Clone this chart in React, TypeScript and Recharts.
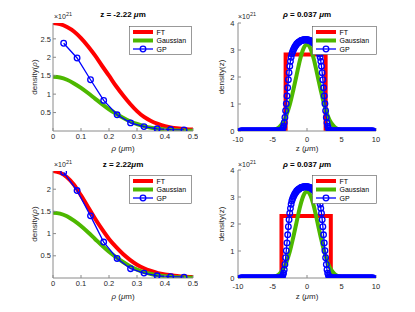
import { LineChart, Line, XAxis, YAxis } from 'recharts'

// rho grid (um) for the smooth curves in the left panels
const rhoFine = [0, 0.025, 0.05, 0.075, 0.1, 0.125, 0.15, 0.175, 0.2, 0.225, 0.25, 0.275, 0.3, 0.325, 0.35, 0.375, 0.4, 0.425, 0.45, 0.475, 0.5]
const ftRhoTop = [2.93, 2.9, 2.82, 2.7, 2.52, 2.3, 2.05, 1.77, 1.5, 1.22, 0.97, 0.74, 0.54, 0.38, 0.27, 0.19, 0.13, 0.09, 0.07, 0.05, 0.04]
const ftRhoBottom = [2.41, 2.37, 2.27, 2.1, 1.86, 1.6, 1.34, 1.1, 0.88, 0.7, 0.54, 0.41, 0.3, 0.22, 0.16, 0.11, 0.08, 0.06, 0.04, 0.03, 0.02]
const gaussRho = [1.47, 1.45, 1.39, 1.29, 1.17, 1.03, 0.88, 0.73, 0.59, 0.47, 0.36, 0.265, 0.19, 0.134, 0.09, 0.06, 0.04, 0.025, 0.015, 0.01, 0.005]

// GP samples in rho
const rhoGP = [0.038, 0.086, 0.134, 0.181, 0.229, 0.277, 0.325, 0.372, 0.42, 0.468]
const gpRhoTop = [2.38, 1.98, 1.39, 0.83, 0.44, 0.22, 0.12, 0.06, 0.04, 0.03]
const gpRhoBottom = [2.38, 1.97, 1.4, 0.81, 0.44, 0.21, 0.11, 0.05, 0.03, 0.02]

// z profiles (right panels)
const zGauss = [-10, -9.5, -9, -8.5, -8, -7.5, -7, -6.5, -6, -5.5, -5, -4.5, -4, -3.5, -3, -2.5, -2, -1.5, -1, -0.5, 0, 0.5, 1, 1.5, 2, 2.5, 3, 3.5, 4, 4.5, 5, 5.5, 6, 6.5, 7, 7.5, 8, 8.5, 9, 9.5, 10]
const gaussZ = [0, 0, 0, 0, 0, 0, 0, 0.001, 0.003, 0.01, 0.027, 0.07, 0.15, 0.3, 0.57, 0.97, 1.5, 2.08, 2.65, 3.06, 3.2, 3.06, 2.65, 2.08, 1.5, 0.97, 0.57, 0.3, 0.15, 0.07, 0.027, 0.01, 0.003, 0.001, 0, 0, 0, 0, 0, 0, 0]

const ftZTop = [-9.6, -3.1, -3.1, 2.7, 2.7, 9.6]
const ftZTopVal = [0, 0, 2.83, 2.83, 0, 0]
const ftZBottom = [-9.6, -3.7, -3.7, 3.45, 3.45, 9.6]
const ftZBottomVal = [0, 0, 2.3, 2.3, 0, 0]

// GP on z grid -9.6 .. 9.6, step 0.1
const gpZStart = -9.6
const gpZStep = 0.1
const gpZ = [
  0, 0, 0, 0, 0, 0, 0, 0, 0, 0, 0, 0, 0, 0, 0, 0, 0, 0, 0, 0,
  0, 0, 0, 0, 0, 0, 0, 0, 0, 0, 0, 0, 0, 0, 0, 0, 0, 0, 0, 0,
  0, 0, 0, 0, 0, 0, 0, 0, 0, 0, 0, 0, 0, 0, 0, 0, 0, 0,
  0.01, 0.03, 0.05, 0.1, 0.18, 0.31, 0.5, 0.75, 1.01, 1.3, 1.6, 1.9, 2.16, 2.4, 2.58, 2.73, 2.85, 2.93,
  2.99, 3.05, 3.1, 3.14, 3.18, 3.22, 3.24, 3.27, 3.29, 3.31, 3.32, 3.34, 3.35, 3.36, 3.37, 3.37, 3.38, 3.38,
  3.38,
  3.38, 3.38, 3.37, 3.37, 3.36, 3.35, 3.34, 3.32, 3.31, 3.29, 3.27, 3.24, 3.22, 3.18, 3.14, 3.1, 3.05, 2.99,
  2.93, 2.85, 2.73, 2.58, 2.4, 2.16, 1.9, 1.6, 1.3, 1.01, 0.75, 0.5, 0.31, 0.18, 0.1, 0.05, 0.03, 0.01,
  0, 0, 0, 0, 0, 0, 0, 0, 0, 0, 0, 0, 0, 0, 0, 0, 0, 0, 0, 0,
  0, 0, 0, 0, 0, 0, 0, 0, 0, 0, 0, 0, 0, 0, 0, 0, 0, 0, 0, 0,
  0, 0, 0, 0, 0, 0, 0, 0, 0, 0, 0, 0, 0, 0, 0, 0, 0, 0, 0, 0, 0, 0,
]

const rhoTicks = [0, 0.1, 0.2, 0.3, 0.4, 0.5]
const zTicks = [-10, -5, 0, 5, 10]
const yTicksTop = [0.5, 1, 1.5, 2, 2.5]
const yTicksBottom = [0.5, 1, 1.5, 2]
const yTicksZ = [0, 1, 2, 3, 4]

const RED = '#ff0000'
const GREEN = '#4db800'
const BLUE = '#0000ff'
const AXIS = '#8a8a8a'
const TEXT = '#262626'

type Pt = { x: number; y: number }
const pairs = (xs: number[], ys: number[]): Pt[] => xs.map((x, i) => ({ x, y: ys[i] }))
const gpZPts: Pt[] = gpZ.map((y, i) => ({ x: Math.round((gpZStart + i * gpZStep) * 10) / 10, y }))

type Box = { x0: number; x1: number; y0: number; y1: number }

function Panel({ box, xDomain, xTicks, yDomain, yTicks, ft, gauss, gp, ftLinear, yTickMargin, xTickMargin }: {
  box: Box
  xDomain: [number, number]
  xTicks: number[]
  yDomain: [number, number]
  yTicks: number[]
  ft: Pt[]
  gauss: Pt[]
  gp: Pt[]
  ftLinear: boolean
  yTickMargin: number
  xTickMargin: number
}) {
  const padL = 45
  const padT = 5
  const padR = 5
  const padB = 22
  const w = box.x1 - box.x0 + padL + padR
  const h = box.y1 - box.y0 + padT + padB
  const tick = { fontSize: 7.5, fill: TEXT }
  return (
    <div style={{ position: 'absolute', left: box.x0 - padL, top: box.y0 - padT }}>
      <LineChart width={w} height={h} margin={{ top: padT, right: padR, left: 0, bottom: 0 }}>
        <XAxis xAxisId="b" type="number" dataKey="x" domain={xDomain} ticks={xTicks} interval={0}
          allowDataOverflow height={padB} tickSize={-3} tickMargin={xTickMargin} stroke={AXIS} tick={tick} />
        <XAxis xAxisId="t" orientation="top" type="number" dataKey="x" domain={xDomain} ticks={xTicks}
          interval={0} allowDataOverflow height={0} tickSize={-3} tickFormatter={() => ''} stroke={AXIS} />
        <YAxis yAxisId="l" type="number" dataKey="y" domain={yDomain} ticks={yTicks} interval={0}
          allowDataOverflow width={padL} tickSize={-3} tickMargin={yTickMargin} stroke={AXIS} tick={tick} />
        <YAxis yAxisId="r" orientation="right" type="number" dataKey="y" domain={yDomain} ticks={yTicks}
          interval={0} allowDataOverflow width={0} tickSize={-3} tickFormatter={() => ''} stroke={AXIS} />
        <Line xAxisId="b" yAxisId="l" data={ft} dataKey="y" type={ftLinear ? 'linear' : 'monotone'}
          stroke={RED} strokeWidth={4} dot={false} activeDot={false} isAnimationActive={false} />
        <Line xAxisId="b" yAxisId="l" data={gauss} dataKey="y" type="monotone"
          stroke={GREEN} strokeWidth={4} dot={false} activeDot={false} isAnimationActive={false} />
        <Line xAxisId="b" yAxisId="l" data={gp} dataKey="y" type="linear" stroke={BLUE} strokeWidth={1.3}
          dot={{ r: 2.8, stroke: BLUE, strokeWidth: 1.3, fill: 'none' }} activeDot={false} isAnimationActive={false} />
      </LineChart>
    </div>
  )
}

function LegendBox({ x, y, w }: { x: number; y: number; w: number }) {
  const rows = [
    { label: 'FT', color: RED, width: 4, marker: false },
    { label: 'Gaussian', color: GREEN, width: 4, marker: false },
    { label: 'GP', color: BLUE, width: 1.3, marker: true },
  ]
  return (
    <svg style={{ position: 'absolute', left: x, top: y }} width={w} height={29}>
      <rect x={0.5} y={0.5} width={w - 1} height={28} fill="#fff" stroke="#555" strokeWidth={0.6} />
      {rows.map((r, i) => {
        const cy = 6 + i * 8.5
        return (
          <g key={r.label}>
            <line x1={4} x2={24} y1={cy} y2={cy} stroke={r.color} strokeWidth={r.width} />
            {r.marker && <circle cx={14} cy={cy} r={2.8} fill="none" stroke={BLUE} strokeWidth={1.3} />}
            <text x={27.5} y={cy + 2.5} fontSize={7} fill="#000">{r.label}</text>
          </g>
        )
      })}
    </svg>
  )
}

const abs = (left: number, top: number, extra: React.CSSProperties = {}): React.CSSProperties => ({
  position: 'absolute', left, top, whiteSpace: 'nowrap', lineHeight: '10px', ...extra,
})

function Exp({ x, y }: { x: number; y: number }) {
  return (
    <div style={abs(x, y, { fontSize: 7, color: TEXT })}>
      ×10<span style={{ fontSize: 5.5, position: 'relative', top: -3 }}>21</span>
    </div>
  )
}

function Title({ cx, cy, children }: { cx: number; cy: number; children: React.ReactNode }) {
  return (
    <div style={abs(cx, cy, { transform: 'translate(-50%, -50%)', fontSize: 8, fontWeight: 'bold', color: '#000' })}>
      {children}
    </div>
  )
}

function XLabel({ cx, cy, children }: { cx: number; cy: number; children: React.ReactNode }) {
  return (
    <div style={abs(cx, cy, { transform: 'translate(-50%, -50%)', fontSize: 8, color: TEXT })}>{children}</div>
  )
}

function YLabel({ cx, cy, children }: { cx: number; cy: number; children: React.ReactNode }) {
  return (
    <div style={abs(cx, cy, { transform: 'translate(-50%, -50%) rotate(-90deg)', fontSize: 8, color: TEXT })}>
      {children}
    </div>
  )
}

export default function App() {
  const tl: Box = { x0: 53, x1: 193, y0: 23, y1: 131 }
  const tr: Box = { x0: 238, x1: 376, y0: 23, y1: 131 }
  const bl: Box = { x0: 53, x1: 193, y0: 171, y1: 278 }
  const br: Box = { x0: 238, x1: 376, y0: 170, y1: 278 }
  const it = { fontStyle: 'italic' as const }
  return (
    <div style={{ position: 'absolute', left: 0, top: 0, width: 415, height: 312, background: '#fff',
      fontFamily: '"Liberation Sans", Arial, Helvetica, sans-serif', overflow: 'hidden' }}>
      <Panel box={tl} xDomain={[0, 0.5]} xTicks={rhoTicks} yDomain={[0, 2.93]} yTicks={yTicksTop}
        ft={pairs(rhoFine, ftRhoTop)} gauss={pairs(rhoFine, gaussRho)} gp={pairs(rhoGP, gpRhoTop)}
        ftLinear={false} yTickMargin={5} xTickMargin={6} />
      <Panel box={tr} xDomain={[-10, 10]} xTicks={zTicks} yDomain={[0, 4]} yTicks={yTicksZ}
        ft={pairs(ftZTop, ftZTopVal)} gauss={pairs(zGauss, gaussZ)} gp={gpZPts}
        ftLinear={true} yTickMargin={6.5} xTickMargin={9} />
      <Panel box={bl} xDomain={[0, 0.5]} xTicks={rhoTicks} yDomain={[0, 2.41]} yTicks={yTicksBottom}
        ft={pairs(rhoFine, ftRhoBottom)} gauss={pairs(rhoFine, gaussRho)} gp={pairs(rhoGP, gpRhoBottom)}
        ftLinear={false} yTickMargin={5} xTickMargin={6} />
      <Panel box={br} xDomain={[-10, 10]} xTicks={zTicks} yDomain={[0, 4]} yTicks={yTicksZ}
        ft={pairs(ftZBottom, ftZBottomVal)} gauss={pairs(zGauss, gaussZ)} gp={gpZPts}
        ftLinear={true} yTickMargin={6.5} xTickMargin={9} />

      <LegendBox x={129} y={26} w={63} />
      <LegendBox x={312} y={26} w={65} />
      <LegendBox x={129} y={175} w={63} />
      <LegendBox x={312} y={175} w={65} />

      <Title cx={123} cy={15}>z = -2.22 <span style={it}>μ</span>m</Title>
      <Title cx={307} cy={15}><span style={it}>ρ</span> = 0.037 <span style={it}>μ</span>m</Title>
      <Title cx={123} cy={165}>z = 2.22<span style={it}>μ</span>m</Title>
      <Title cx={307} cy={165}><span style={it}>ρ</span> = 0.037 <span style={it}>μ</span>m</Title>

      <Exp x={54} y={12} />
      <Exp x={238} y={12} />
      <Exp x={54} y={160} />
      <Exp x={238} y={160} />

      <XLabel cx={123} cy={149}><span style={it}>ρ</span> (<span style={it}>μ</span>m)</XLabel>
      <XLabel cx={307} cy={149}>z (<span style={it}>μ</span>m)</XLabel>
      <XLabel cx={123} cy={297}><span style={it}>ρ</span> (<span style={it}>μ</span>m)</XLabel>
      <XLabel cx={307} cy={297}>z (<span style={it}>μ</span>m)</XLabel>

      <YLabel cx={35} cy={77}>density(<span style={it}>ρ</span>)</YLabel>
      <YLabel cx={222} cy={77}>density(z)</YLabel>
      <YLabel cx={35} cy={224}>density(<span style={it}>ρ</span>)</YLabel>
      <YLabel cx={222} cy={224}>density(z)</YLabel>
    </div>
  )
}
